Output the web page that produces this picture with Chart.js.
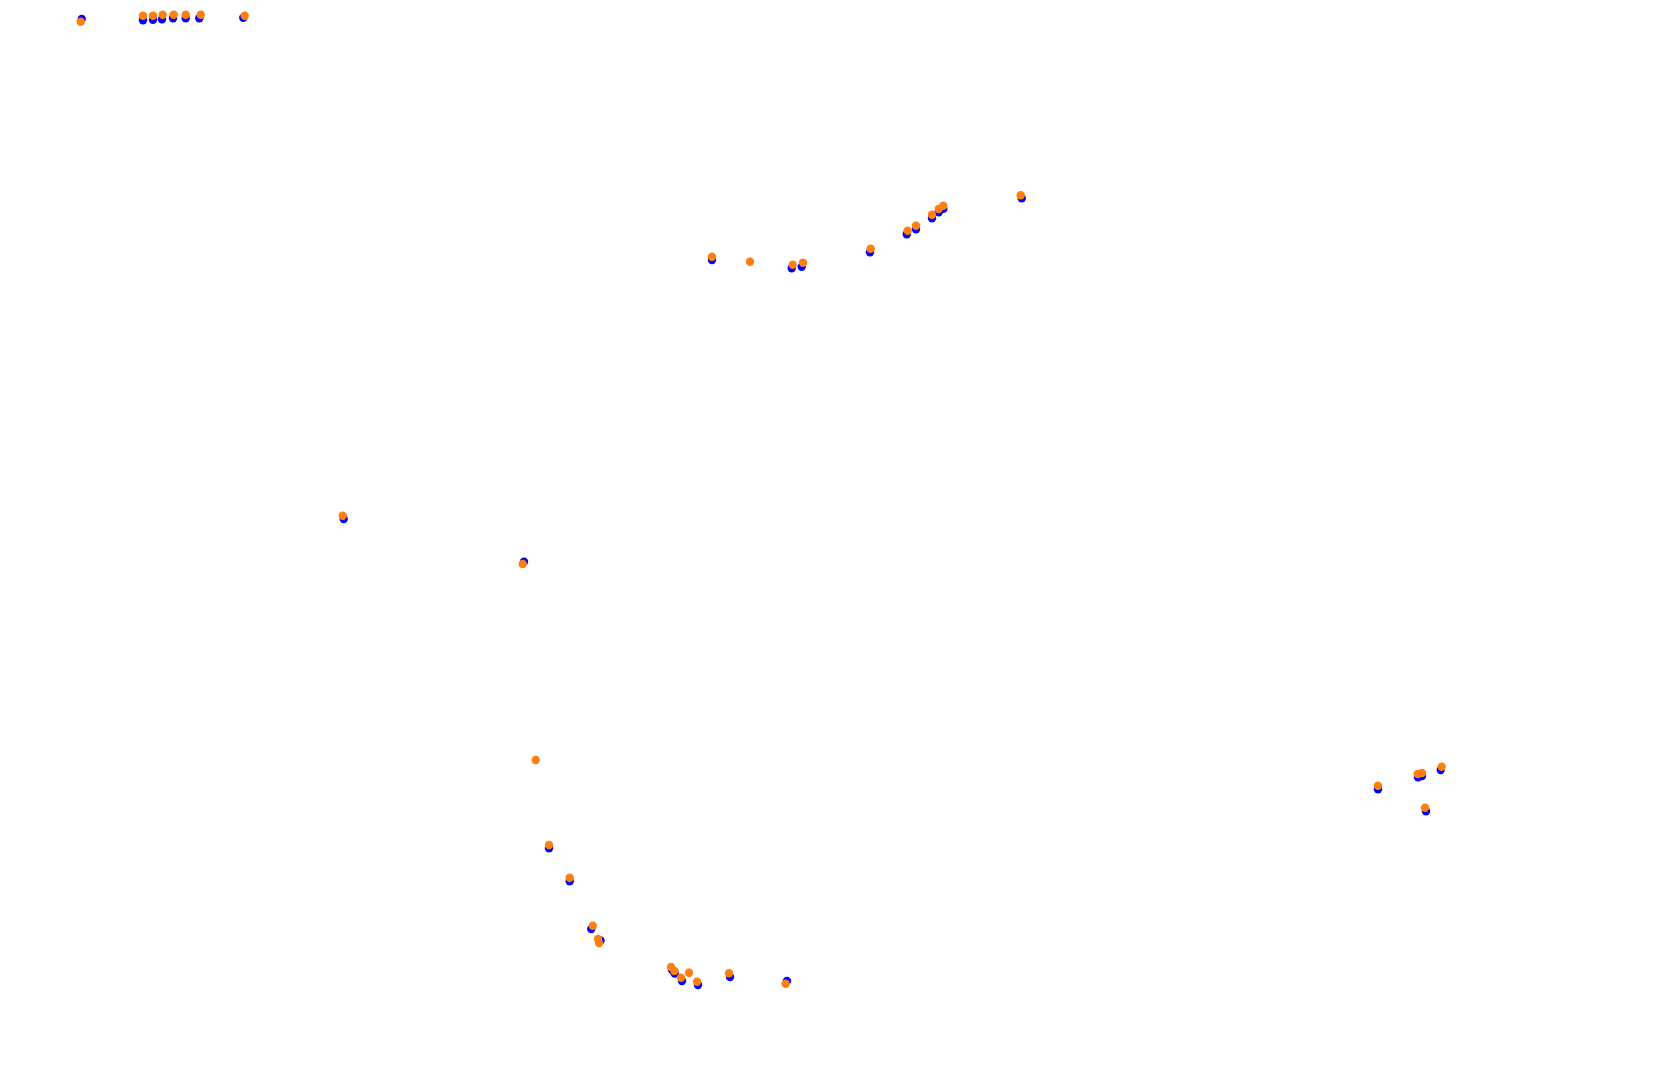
<!DOCTYPE html>
<html>
<head>
<meta charset="utf-8">
<script src="https://cdn.jsdelivr.net/npm/chart.js@4/dist/chart.umd.min.js"></script>
<style>
    html, body { margin: 0; padding: 0; background: #ffffff; overflow: hidden; }
    #wrap { width: 1680px; height: 1076px; position: relative; }
</style>
</head>
<body>
<div id="wrap"><canvas id="track"></canvas></div>
<script>
// track positions (plot units, y grows downwards)
const blueX = [81.7, 143, 153, 162, 173, 185.7, 199.3, 243.3,
    712, 791.7, 801.7, 870, 906.7, 916, 932, 938.7, 943.3, 1021.7,
    343.7, 524,
    549, 569.7, 591.3, 600.5,
    672, 674.7, 682, 698, 730, 787,
    1378, 1418, 1422, 1440.7, 1426];
const blueY = [19, 20.3, 19.7, 19.3, 18.3, 18.3, 18.3, 17.7,
    260, 268.3, 266.7, 252.3, 234.3, 229.3, 218.3, 212.3, 208.7, 198.3,
    519, 561.7,
    848.3, 881.3, 929, 940.5,
    969.7, 973.5, 981, 985, 977, 981,
    789.3, 777.3, 776, 770, 811.3];

const orangeX = [80.7, 143, 153, 162.7, 173.7, 185.7, 200.7, 244.7,
    712, 750, 792.7, 803, 870.7, 907.7, 916, 932, 938.7, 943.3, 1020.7,
    342.7, 522.7,
    535.7, 549, 569.7, 592.8, 598, 599,
    671, 674.5, 681, 689, 697, 729, 785.7,
    1378, 1417.7, 1422, 1441.7, 1425];
const orangeY = [21.7, 15.7, 15.7, 14.7, 14.7, 14.7, 14.7, 15.7,
    256.7, 261.7, 264.7, 262.7, 248.7, 230.7, 225.7, 214.7, 209, 205.7, 195.3,
    515.7, 564,
    760, 845, 877.7, 925.7, 939, 943,
    967, 971, 977.7, 972.7, 981.7, 973.3, 983.7,
    785.7, 774, 773, 766.7, 807.7];

const toPoints = (xs, ys) => xs.map((x, i) => ({ x: x, y: ys[i] }));

new Chart(
    document.getElementById('track'),
    {
        type: 'scatter',
        data: {
            datasets: [
                {
                    label: 'orange',
                    data: toPoints(orangeX, orangeY),
                    backgroundColor: '#ff7f0e',
                    borderColor: '#ff7f0e',
                    borderWidth: 0,
                    pointRadius: 4.2,
                    order: 1
                },
                {
                    label: 'blue',
                    data: toPoints(blueX, blueY),
                    backgroundColor: '#0000ff',
                    borderColor: '#0000ff',
                    borderWidth: 0,
                    pointRadius: 4.2,
                    order: 2
                }
            ]
        },
        options: {
            responsive: true,
            maintainAspectRatio: false,
            animation: false,
            layout: { autoPadding: false, padding: 0 },
            plugins: {
                legend: { display: false },
                tooltip: { enabled: false }
            },
            scales: {
                x: { type: 'linear', min: 0, max: 1680, display: false },
                y: { type: 'linear', min: 0, max: 1076, reverse: true, display: false }
            }
        }
    }
);
</script>
</body>
</html>
